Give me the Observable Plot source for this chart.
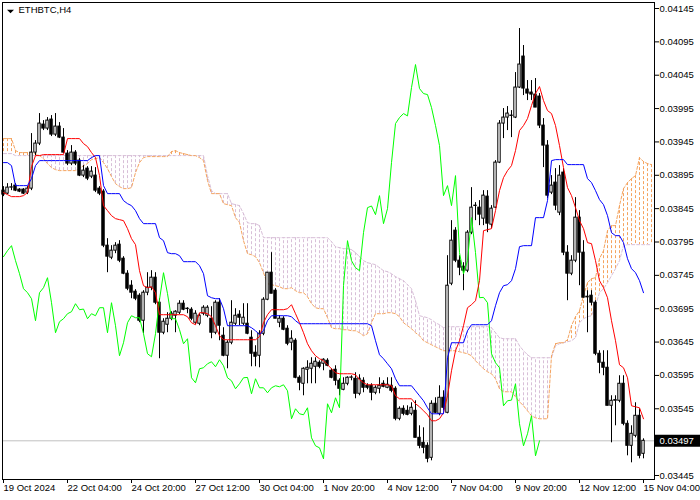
<!DOCTYPE html>
<html><head><meta charset="utf-8">
<script src="https://cdn.jsdelivr.net/npm/d3@7"></script>
<script src="https://cdn.jsdelivr.net/npm/@observablehq/plot@0.6"></script>
<style>
html,body{margin:0;padding:0;background:#fff;}
#chart{width:700px;height:500px;overflow:hidden;}
</style></head><body><div id="chart"></div>
<script>
const symbolName = "ETHBTC,H4";
const xTickBars = [0,16,32,48,64,80,96,112,128,144,160];
const xTickLabels = ["19 Oct 2024","22 Oct 04:00","24 Oct 20:00","27 Oct 12:00","30 Oct 04:00","1 Nov 20:00","4 Nov 12:00","7 Nov 04:00","9 Nov 20:00","12 Nov 12:00","15 Nov 04:00"];
const yTicks = [0.04145,0.04095,0.04045,0.03995,0.03945,0.03895,0.03845,0.03795,0.03745,0.03695,0.03645,0.03595,0.03545,0.03445];
const lastPrice = 0.03497;
const chikouShift = 26;

const opens = [
0.03872,0.038675,0.038765,0.038795,0.038735,0.038735,0.03869,0.03875,0.03929,0.039425,
0.03971,0.03965,0.039785,0.03956,0.03968,0.039515,0.039275,0.039125,0.03929,0.03917,
0.038945,0.03905,0.03893,0.038945,0.03875,0.038705,0.037895,0.037715,0.03782,0.03791,
0.0377,0.037475,0.037295,0.037205,0.037145,0.03677,0.03719,0.037265,0.037415,0.03704,
0.03659,0.03671,0.0368,0.036845,0.03689,0.037025,0.03695,0.036935,0.03674,0.036725,
0.036875,0.036845,0.0368,0.03659,0.03704,0.036545,0.036245,0.03644,0.036725,0.03686,
0.036725,0.036725,0.036515,0.03629,0.036245,0.036575,0.037085,0.03749,0.03722,0.03674,
0.0368,0.03665,0.03644,0.03647,0.035915,0.035825,0.036035,0.03605,0.03608,0.03614,
0.036125,0.03617,0.03602,0.036035,0.03587,0.035735,0.035825,0.035915,0.0359,0.035675,
0.03587,0.035795,0.035795,0.03569,0.03575,0.035825,0.035765,0.035795,0.03575,0.0353,
0.03545,0.03542,0.035375,0.03542,0.035015,0.03494,0.034895,0.034715,0.035525,0.035375,
0.035615,0.03539,0.037325,0.03812,0.03767,0.03758,0.03752,0.03809,0.038495,0.038465,
0.0383,0.03863,0.03821,0.038465,0.03914,0.039725,0.039815,0.039845,0.039815,0.040265,
0.04073,0.040235,0.04019,0.04016,0.04013,0.039695,0.039395,0.03869,0.03884,0.03839,
0.03899,0.03779,0.037475,0.03767,0.038315,0.03779,0.03713,0.037145,0.03704,0.036275,
0.03614,0.036065,0.035495,0.03557,0.03557,0.035825,0.035225,0.034895,0.035045,0.035345,
0.034775];
const highs = [
0.03878,0.038825,0.038825,0.038825,0.03875,0.03875,0.03878,0.039575,0.03947,0.039875,
0.03977,0.039815,0.039845,0.039875,0.03974,0.03965,0.03932,0.039395,0.03932,0.0392,
0.039095,0.03908,0.03908,0.039065,0.03878,0.038735,0.038,0.037895,0.03794,0.03797,
0.03773,0.03752,0.03737,0.037235,0.037175,0.03722,0.03749,0.03752,0.03749,0.0371,
0.0368,0.03689,0.036905,0.03692,0.03707,0.03707,0.036965,0.036965,0.03692,0.036875,
0.036995,0.036995,0.03698,0.03707,0.0371,0.036665,0.03647,0.03707,0.03695,0.03692,
0.037025,0.037025,0.03662,0.036395,0.03662,0.037115,0.03749,0.03779,0.03725,0.036845,
0.03683,0.036695,0.03662,0.0365,0.035945,0.036065,0.03617,0.036215,0.036215,0.03617,
0.0362,0.0362,0.03605,0.036095,0.0359,0.035915,0.03593,0.035945,0.03599,0.03596,
0.035915,0.035825,0.035825,0.035795,0.035915,0.03587,0.035915,0.035915,0.03578,0.03548,
0.035495,0.035495,0.03554,0.03557,0.035195,0.035165,0.03494,0.03557,0.035615,0.035795,
0.03572,0.037745,0.03827,0.038165,0.037745,0.03764,0.03812,0.038765,0.03854,0.03857,
0.03872,0.03872,0.038495,0.03917,0.03977,0.03995,0.03998,0.03992,0.04049,0.04115,
0.040895,0.04037,0.04037,0.0404,0.040175,0.0398,0.03947,0.038945,0.03905,0.039095,
0.03905,0.037895,0.037745,0.038615,0.03842,0.03797,0.03722,0.03722,0.03707,0.03632,
0.03632,0.03632,0.035645,0.035645,0.035945,0.035945,0.03527,0.035195,0.03554,0.03545,
0.035];
const lows = [
0.03863,0.03866,0.03872,0.038705,0.03869,0.03866,0.03866,0.03872,0.039245,0.039395,
0.03962,0.03962,0.03953,0.03953,0.0395,0.039275,0.039095,0.039095,0.039095,0.03893,
0.038915,0.03887,0.0389,0.03869,0.038645,0.037865,0.03749,0.037685,0.037775,0.03764,
0.03746,0.03722,0.0371,0.03707,0.03674,0.036575,0.037145,0.03722,0.03701,0.0362,
0.03656,0.03659,0.03677,0.03659,0.03686,0.03692,0.036875,0.03677,0.03671,0.036695,
0.036845,0.036815,0.0365,0.03656,0.03647,0.03623,0.03605,0.03641,0.036695,0.036695,
0.036695,0.03656,0.03608,0.03608,0.036065,0.036545,0.03707,0.037175,0.0368,0.036665,
0.03662,0.036395,0.03632,0.0359,0.03572,0.035645,0.035825,0.035825,0.035825,0.03605,
0.03602,0.03608,0.0359,0.035795,0.035645,0.03572,0.035795,0.03587,0.0356,0.035645,
0.03569,0.035735,0.03557,0.03566,0.035675,0.035765,0.03575,0.03569,0.03527,0.03527,
0.035345,0.035345,0.035345,0.035015,0.03485,0.034775,0.03464,0.03467,0.035375,0.035345,
0.03542,0.035375,0.037295,0.03764,0.037445,0.03722,0.03749,0.03806,0.03827,0.038195,
0.038195,0.03809,0.03815,0.03845,0.039125,0.0395,0.03962,0.039515,0.0398,0.04025,
0.040145,0.04007,0.04007,0.039965,0.03965,0.039065,0.0386,0.03866,0.03842,0.038345,
0.037745,0.03707,0.037445,0.03764,0.037295,0.037115,0.03659,0.036995,0.036245,0.035975,
0.035945,0.035495,0.03494,0.035195,0.03554,0.035195,0.034745,0.03464,0.035015,0.0347,
0.0347];
const closes = [
0.03866,0.038765,0.03877,0.03872,0.038705,0.038675,0.03875,0.03929,0.039425,0.039725,
0.03965,0.03977,0.03956,0.03968,0.039515,0.03929,0.039125,0.03929,0.039125,0.038945,
0.03902,0.0389,0.039005,0.03872,0.038675,0.037895,0.03773,0.03782,0.037895,0.03767,
0.037475,0.03725,0.03719,0.0371,0.03677,0.03719,0.037265,0.037415,0.03704,0.03659,
0.036755,0.0368,0.036875,0.036905,0.037025,0.036935,0.036945,0.0368,0.036875,0.036845,
0.036965,0.036965,0.03659,0.03704,0.036695,0.036245,0.03644,0.03674,0.036845,0.036815,
0.036815,0.036575,0.036275,0.03623,0.036575,0.037085,0.03749,0.037175,0.0368,0.0368,
0.036635,0.036425,0.0365,0.035915,0.03584,0.03605,0.036065,0.036125,0.036155,0.03608,
0.036185,0.036095,0.035915,0.03587,0.03575,0.035825,0.035915,0.03592,0.035675,0.0359,
0.035765,0.035765,0.03569,0.035765,0.035795,0.03578,0.03581,0.03572,0.0353,0.03545,
0.035375,0.03536,0.035465,0.035015,0.034895,0.034865,0.0347,0.035525,0.03539,0.035615,
0.035465,0.037295,0.03797,0.03767,0.037565,0.03752,0.03809,0.038465,0.03849,0.03836,
0.038645,0.038225,0.03845,0.03914,0.039725,0.039815,0.039875,0.03984,0.040265,0.04061,
0.04025,0.040175,0.04016,0.039965,0.039695,0.039395,0.038645,0.038795,0.038495,0.038945,
0.03779,0.037475,0.03767,0.038315,0.03779,0.037115,0.03712,0.03704,0.036275,0.03614,
0.036065,0.035495,0.03557,0.03558,0.035825,0.035225,0.034895,0.035075,0.035345,0.034745,
0.03497];
const tenkan = [
0.03869,0.03866,0.03863,0.03863,0.03863,0.038645,0.03869,0.03908,0.039245,0.039245,
0.03926,0.03926,0.03926,0.03926,0.03926,0.03926,0.0395,0.0395,0.0395,0.0395,
0.039425,0.03938,0.03929,0.039215,0.038945,0.038495,0.03842,0.038345,0.0383,0.038285,
0.03827,0.03815,0.038,0.03791,0.03752,0.037295,0.037265,0.03728,0.03719,0.03686,
0.03686,0.03686,0.03686,0.03686,0.03686,0.03686,0.03683,0.03674,0.03671,0.03689,
0.03689,0.036875,0.03683,0.036695,0.036545,0.036485,0.036485,0.036485,0.036485,0.036485,
0.036485,0.036485,0.036485,0.036485,0.03653,0.03674,0.03686,0.036935,0.036935,0.036935,
0.036935,0.03695,0.03701,0.036875,0.03674,0.03659,0.036425,0.03632,0.036245,0.0362,
0.03617,0.03611,0.03605,0.03599,0.035975,0.035975,0.035975,0.035975,0.03596,0.035885,
0.03584,0.03581,0.03581,0.03581,0.03581,0.03581,0.03581,0.035795,0.035645,0.0356,
0.0356,0.0356,0.0356,0.035525,0.03548,0.03542,0.03536,0.03527,0.03527,0.0353,
0.03539,0.035645,0.03602,0.03632,0.03647,0.036695,0.036965,0.03701,0.03707,0.03737,
0.03812,0.038135,0.03815,0.03842,0.03872,0.038915,0.03902,0.039095,0.03932,0.03962,
0.039695,0.0398,0.039995,0.040175,0.04028,0.04007,0.03992,0.039875,0.039695,0.039395,
0.039065,0.038765,0.038645,0.038465,0.03827,0.03815,0.03794,0.037925,0.03767,0.03737,
0.037265,0.037115,0.03677,0.03647,0.03611,0.036065,0.035915,0.035495,0.03548,0.035465,
0.0353];
const kijun = [
0.03914,0.03914,0.039095,0.038795,0.038795,0.038795,0.038795,0.0389,0.039095,0.03917,
0.03917,0.03917,0.03917,0.03917,0.03917,0.03917,0.03917,0.03917,0.03917,0.03917,
0.03917,0.03917,0.039215,0.039245,0.039245,0.038795,0.038675,0.038675,0.038675,0.038675,
0.03857,0.038525,0.038495,0.03842,0.0383,0.038225,0.038225,0.038225,0.038225,0.038015,
0.03797,0.03779,0.037775,0.037775,0.037745,0.037655,0.037655,0.037655,0.037655,0.037595,
0.037475,0.037145,0.037115,0.0371,0.0371,0.03695,0.036695,0.036695,0.036695,0.036695,
0.036695,0.036695,0.036665,0.03662,0.03656,0.03662,0.03677,0.036845,0.036845,0.036845,
0.036845,0.036845,0.03683,0.03677,0.036725,0.036725,0.036725,0.036725,0.036725,0.036725,
0.036725,0.036725,0.036725,0.036725,0.036725,0.036725,0.036725,0.036725,0.036725,0.036725,
0.036725,0.036725,0.036695,0.03647,0.03626,0.0362,0.036125,0.03605,0.0359,0.035795,
0.035795,0.035795,0.035795,0.03572,0.035645,0.03557,0.035465,0.035375,0.035375,0.035375,
0.035375,0.036215,0.03644,0.03644,0.03644,0.03644,0.03662,0.03671,0.03671,0.03671,
0.03671,0.03671,0.03677,0.036995,0.03719,0.037295,0.03731,0.03737,0.03755,0.03788,
0.037895,0.037895,0.037895,0.038315,0.038315,0.038315,0.03857,0.03917,0.039185,0.039185,
0.039185,0.03911,0.03911,0.03911,0.03911,0.03911,0.0389,0.03884,0.03872,0.038585,
0.03851,0.038345,0.03809,0.038045,0.038045,0.03794,0.0377,0.03755,0.03749,0.03737,
0.03719];
const spanA = [
0.0395,0.0395,0.0395,0.03932,0.03929,0.03929,0.03929,0.03929,0.039275,0.039245,
0.0392,0.039125,0.039065,0.039035,0.03902,0.03902,0.03902,0.03902,0.03902,0.03905,
0.039095,0.039125,0.039185,0.0392,0.039215,0.03914,0.03905,0.03893,0.038825,0.03878,
0.03875,0.03875,0.038765,0.03899,0.03914,0.039215,0.03923,0.03923,0.03923,0.03923,
0.03923,0.03923,0.039305,0.03932,0.03929,0.039275,0.03926,0.039245,0.039245,0.039215,
0.03917,0.03887,0.038675,0.038675,0.038675,0.038525,0.03851,0.038495,0.038315,0.03824,
0.03797,0.037775,0.03776,0.03773,0.03764,0.03749,0.037325,0.03731,0.037295,0.03728,
0.03725,0.03725,0.037265,0.03722,0.03719,0.03719,0.03713,0.037025,0.036965,0.03695,
0.03695,0.036815,0.036665,0.03665,0.03665,0.036635,0.036635,0.03662,0.03662,0.03659,
0.036545,0.036575,0.03674,0.036875,0.036875,0.036875,0.03689,0.03689,0.036875,0.03683,
0.03674,0.036695,0.03665,0.03659,0.036545,0.03647,0.03644,0.03641,0.03638,0.03635,
0.03632,0.03632,0.03632,0.03632,0.036305,0.03629,0.036275,0.036245,0.03617,0.03611,
0.03605,0.036005,0.035975,0.0359,0.03575,0.035705,0.035705,0.035705,0.03563,0.035555,
0.035495,0.03542,0.035345,0.035315,0.0353,0.0353,0.0353,0.036245,0.036425,0.03644,
0.03644,0.036485,0.036695,0.03683,0.03692,0.037145,0.03734,0.0374,0.037415,0.0377,
0.03782,0.03812,0.038195,0.038195,0.038495,0.03875,0.03884,0.0389,0.038945,0.039215,
0.039155,0.039125,0.03911];
const spanB = [
0.039275,0.039275,0.039275,0.039245,0.039245,0.039245,0.039245,0.039245,0.039245,0.039245,
0.039245,0.039245,0.039245,0.039245,0.039245,0.039245,0.039245,0.039245,0.039245,0.039245,
0.039245,0.039245,0.039245,0.039245,0.039245,0.039245,0.039245,0.039245,0.039245,0.039245,
0.039245,0.039245,0.039245,0.039245,0.039245,0.039245,0.039245,0.039245,0.039245,0.039245,
0.039245,0.039245,0.039245,0.039245,0.039245,0.039245,0.039245,0.039245,0.039245,0.039245,
0.039245,0.038945,0.03872,0.038675,0.038675,0.038675,0.038675,0.038525,0.03851,0.038495,
0.038375,0.03824,0.038225,0.038225,0.038195,0.038015,0.038015,0.038015,0.038015,0.038015,
0.038015,0.038015,0.038015,0.038015,0.038015,0.038015,0.038015,0.038015,0.038015,0.038015,
0.038015,0.038015,0.037955,0.03788,0.037865,0.03785,0.03785,0.037835,0.03779,0.03773,
0.03767,0.03764,0.037625,0.03761,0.037565,0.03752,0.037505,0.037475,0.03743,0.0374,
0.03737,0.03731,0.03725,0.03707,0.036845,0.03683,0.036815,0.036785,0.03674,0.03671,
0.036665,0.03668,0.03668,0.03668,0.03668,0.03668,0.03668,0.03668,0.03668,0.03668,
0.03668,0.03668,0.036665,0.03659,0.036515,0.0365,0.0365,0.0365,0.0365,0.036395,
0.03632,0.03626,0.036215,0.036215,0.036215,0.036215,0.036215,0.036215,0.036395,0.036425,
0.03644,0.036455,0.03647,0.036515,0.03674,0.0368,0.03683,0.036845,0.036995,0.03719,
0.03725,0.03734,0.037445,0.03755,0.03767,0.037895,0.03791,0.03791,0.03791,0.03791,
0.03791,0.03791,0.03791];

const bars = opens.map((o, i) => ({i, o, h: highs[i], l: lows[i], c: closes[i], up: closes[i] >= o}));
const cloud = spanA.map((a, i) => ({i, a, b: spanB[i], bull: a >= spanB[i]}));
const chikou = closes.slice(chikouShift).map((c, j) => ({i: j, v: c}));
const tk = tenkan.map((v, i) => ({i, v}));
const kj = kijun.map((v, i) => ({i, v}));

const triangle = {draw(ctx) { ctx.moveTo(-3.5, -1.8); ctx.lineTo(3.5, -1.8); ctx.lineTo(0, 1.8); ctx.closePath(); }};
const FONT = "'Liberation Sans', Arial, sans-serif";

const chart = Plot.plot({
  width: 700, height: 500,
  marginLeft: 2, marginRight: 46, marginTop: 2, marginBottom: 21,
  style: {fontFamily: FONT, fontSize: "9.5px", color: "black", background: "white", overflow: "visible"},
  x: {type: "linear", domain: [-0.25, 162.75], label: null},
  y: {type: "linear", domain: [0.03439, 0.04154], label: null},
  color: {type: "identity"},
  marks: [
    Plot.ruleY([lastPrice], {stroke: "#C0C0C0"}),
    Plot.ruleX(cloud, {x: "i", y1: "a", y2: "b", stroke: d => d.bull ? "#F4A460" : "#D8BFD8", strokeDasharray: "3,2"}),
    Plot.line(cloud, {x: "i", y: "b", stroke: "#D8BFD8", strokeWidth: 1, strokeDasharray: "3,2"}),
    Plot.line(cloud, {x: "i", y: "a", stroke: "#F4A460", strokeWidth: 1, strokeDasharray: "3,2"}),
    Plot.ruleX(bars, {x: "i", y1: "l", y2: "h", stroke: "black"}),
    Plot.rect(bars, {x1: d => d.i - 0.3, x2: d => d.i + 0.3, y1: "o", y2: "c", fill: d => d.up ? "white" : "black", stroke: "black", strokeWidth: 1}),
    Plot.line(chikou, {x: "i", y: "v", stroke: "#00FF00", strokeWidth: 1}),
    Plot.line(tk, {x: "i", y: "v", stroke: "#FF0000", strokeWidth: 1}),
    Plot.line(kj, {x: "i", y: "v", stroke: "#0000FF", strokeWidth: 1}),
    Plot.frame({stroke: "black"}),
    Plot.axisY(yTicks, {anchor: "right", tickSize: 4, tickPadding: 1, tickFormat: d => d.toFixed(5), textAnchor: "start", fill: "black"}),
    Plot.axisX(xTickBars, {anchor: "bottom", tickSize: 4, tickPadding: 1, tickFormat: i => xTickLabels[xTickBars.indexOf(i)], textAnchor: "start", fill: "black"}),
    Plot.ruleY([lastPrice], {x1: 162.75, x2: 174.5, stroke: "black", strokeWidth: 12}),
    Plot.text([lastPrice], {y: d => d, frameAnchor: "right", dx: 5, textAnchor: "start", fill: "white", text: d => d.toFixed(5)}),
    Plot.dot([symbolName], {frameAnchor: "top-left", dx: 8, dy: 9, symbol: triangle, fill: "black", stroke: null}),
    Plot.text([symbolName], {frameAnchor: "top-left", dx: 16, dy: 4, textAnchor: "start", lineAnchor: "top", fill: "black", text: d => d})
  ]
});
document.getElementById("chart").append(chart);
</script></body></html>
